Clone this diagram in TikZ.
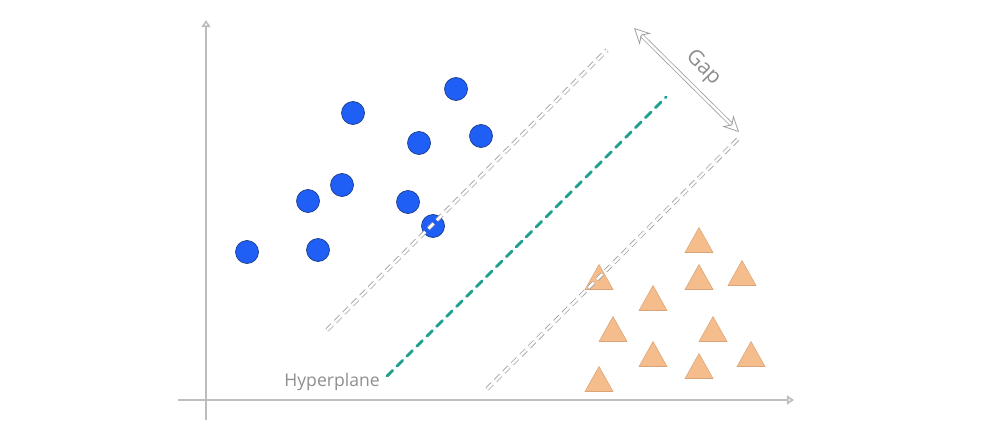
\documentclass[tikz,border=0pt]{standalone}
\usepackage{fontspec}
\setmainfont{Open Sans}
\usetikzlibrary{arrows.meta}
\definecolor{dotblue}{HTML}{1F5FF5}
\definecolor{dotedge}{HTML}{1B3C8C}
\definecolor{triorange}{HTML}{F5BC8C}
\definecolor{triedge}{HTML}{D9A478}
\definecolor{planeteal}{HTML}{1FA08E}
\definecolor{axisgray}{HTML}{BDBDBD}
\definecolor{labelgray}{HTML}{8E8E8E}

\begin{document}
\begin{tikzpicture}[x=0.02cm,y=-0.02cm,font=\normalsize,
  axis/.style={draw=axisgray,line width=0.9pt,-{Triangle[open,length=4pt,width=5pt]}},
  margin/.style={draw=gray!75,line width=0.45pt,double=white,double distance=1.4pt,
    dash pattern=on 4.2pt off 2.6pt},
  plane/.style={draw=planeteal,line width=1.6pt,line cap=round,dash pattern=on 4.5pt off 3.5pt},
  gaparrow/.style={draw=gray!75,line width=0.45pt,double=white,double distance=1.4pt,
    {Stealth[open,length=9pt,width=9pt]}-{Stealth[open,length=9pt,width=9pt]}},
  dot/.style={circle,fill=dotblue,draw=dotedge,line width=0.4pt,minimum size=0.46cm,inner sep=0},
  tri/.style={fill=triorange,draw=triedge,line width=0.3pt},
  lbl/.style={text=labelgray,inner sep=0pt}]
\useasboundingbox (0,0) rectangle (982,432);

% ---- axes
\coordinate (yaxlo) at (206,420);
\coordinate (yaxhi) at (206,20);
\coordinate (xaxlo) at (178,400);
\coordinate (xaxhi) at (794,400);
\draw[axis] (yaxlo)--(yaxhi);
\draw[axis] (xaxlo)--(xaxhi);

% ---- class A
\foreach \px/\py [count=\i] in {353/113,456/89,419/143,481/136,342/185,
    308/201,408/202,433/226,247/252,318/250}
  \node[dot] (c\i) at (\px,\py) {};

% ---- class B
\foreach \px/\py [count=\i] in {699/240,599/277,699/277,742/273,653/298,
    613/329,713/329,653/354,699/366,751/354,599/379}
  \path[tri] (\px-14,\py+12.5)--(\px,\py-12.5)--(\px+14,\py+12.5)--cycle;

% ---- margins and hyperplane
\coordinate (mupl) at (327,330);
\coordinate (mupr) at (607,50);
\coordinate (mlol) at (487,389);
\coordinate (mlor) at (739,138);
\coordinate (hpl) at (387,376);
\coordinate (hpr) at (666,97);
\draw[margin] (mupl)--(mupr);
\draw[margin] (mlol)--(mlor);
\draw[plane] (hpl)--(hpr);
\node[lbl,anchor=east] (hplabel) at (380,382) {Hyperplane};

% ---- gap
\coordinate (gapa) at (634,28);
\coordinate (gapb) at (739,132);
\draw[gaparrow] (gapa)--(gapb);
\node[lbl,rotate=-45,font=\large] (gaplabel) at (703,68) {Gap};
\end{tikzpicture}
\end{document}
